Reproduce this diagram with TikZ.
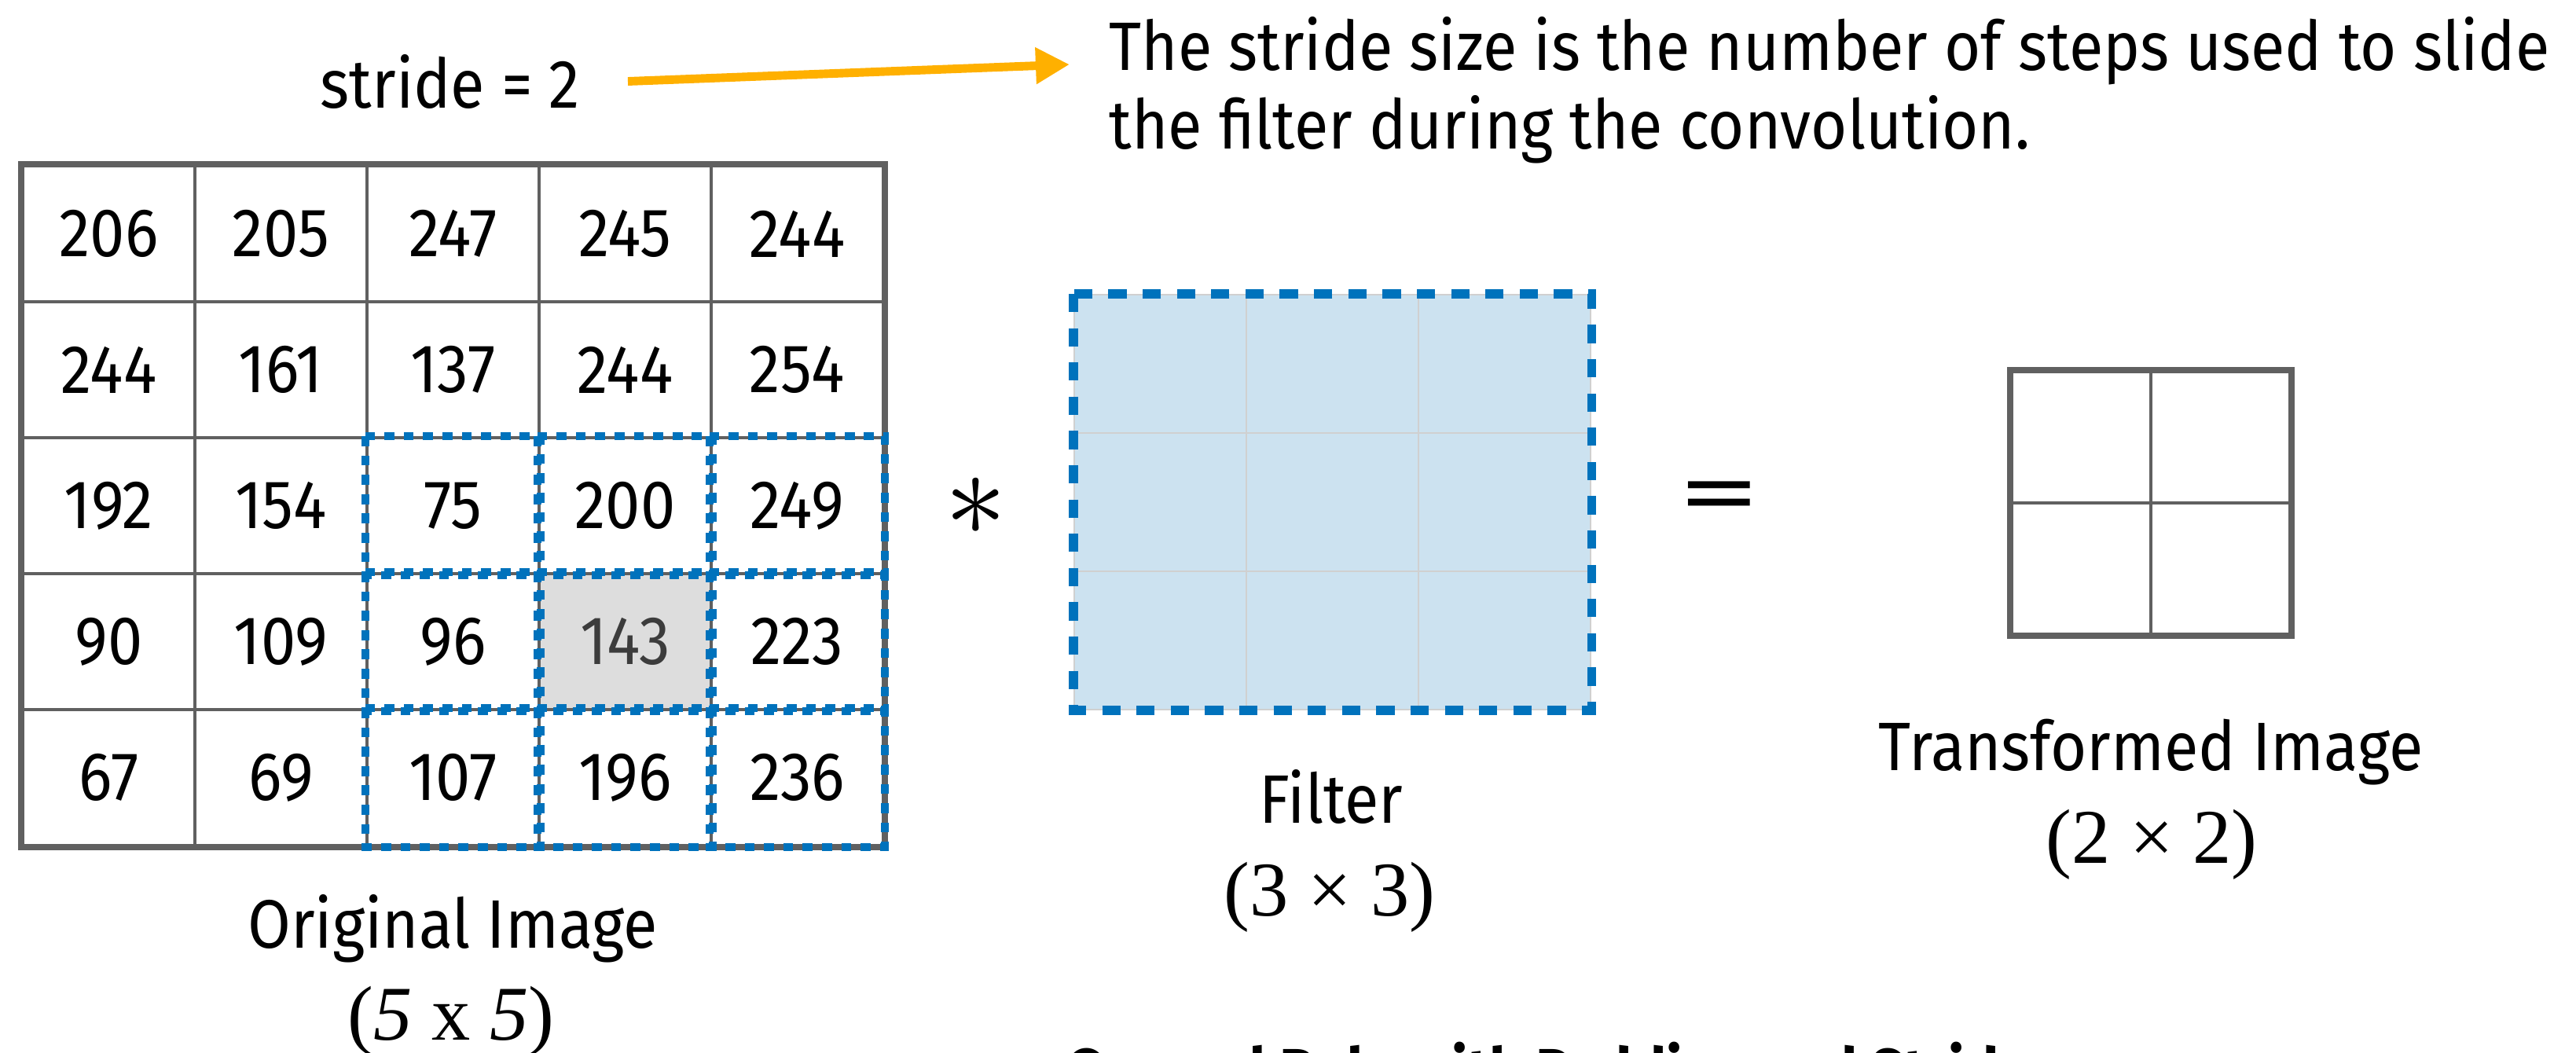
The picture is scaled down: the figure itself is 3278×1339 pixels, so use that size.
\documentclass[tikz,border=0pt]{standalone}
\usepackage{fontspec}
\setmainfont{Fira Sans}[FakeStretch=0.91]
\newfontfamily\dimfont{Liberation Serif}
\usetikzlibrary{arrows.meta,positioning}

\definecolor{gridgray}{RGB}{96,96,96}
\definecolor{winblue}{RGB}{0,114,188}
\definecolor{fltfill}{RGB}{204,226,240}
\definecolor{fltline}{RGB}{208,208,208}
\definecolor{hlfill}{RGB}{221,221,221}
\definecolor{hltext}{RGB}{60,60,60}
\definecolor{notegold}{RGB}{255,176,0}

\begin{document}
\begin{tikzpicture}[x=0.01cm, y=-0.01cm,
      font=\fontsize{24.8pt}{28.45pt}\selectfont,
      cell/.style={draw=gridgray, line width=1.1pt, minimum width=2.19cm,
                   minimum height=1.73cm, inner sep=0pt},
      cell 4-4/.style={fill=hlfill, text=hltext},
      fltcell/.style={draw=fltline, fill=fltfill, line width=0.6pt,
                      minimum width=2.19cm, minimum height=1.76cm, inner sep=0pt},
      outcell/.style={draw=gridgray, line width=1.1pt, minimum width=1.77cm,
                      minimum height=1.67cm, inner sep=0pt},
      frame/.style={draw=gridgray, line width=2.3pt},
      window/.style={draw=winblue, line width=2.6pt, dash pattern=on 3.6pt off 3.4pt},
      fltwindow/.style={draw=winblue, line width=3.2pt, dash pattern=on 6.6pt off 5.8pt},
      lbl/.style={inner sep=0pt, anchor=base},
      dim/.style={inner sep=0pt, anchor=base, font=\dimfont\fontsize{28pt}{30pt}\selectfont},
      pointer/.style={-{Triangle[length=4.3mm, width=4.4mm]}, draw=notegold, line width=3.1pt}]
    \useasboundingbox (0,0) rectangle (3278,1339);

    % original image
    \foreach \vals [count=\r] in {{206,205,247,245,244},{244,161,137,244,254},
        {192,154,75,200,249},{90,109,96,143,223},{67,69,107,196,236}}
      \foreach \v [count=\c] in \vals
        \node[cell, cell \r-\c/.try] (img-\r-\c) at ({138.5+219*(\c-1)}, {297.5+173*(\r-1)}) {\v};
    \draw[frame] (img-1-1.north west) rectangle (img-5-5.south east);
    \foreach \r in {3,4,5}
      \foreach \c in {3,4,5}
        \draw[window] (img-\r-\c.north west) rectangle (img-\r-\c.south east);

    % filter
    \foreach \r in {1,2,3}
      \foreach \c in {1,2,3}
        \node[fltcell] (flt-\r-\c) at ({1476.5+219*(\c-1)}, {463+176*(\r-1)}) {};
    \draw[fltwindow] (flt-1-1.north west) rectangle (flt-3-3.south east);

    % output
    \foreach \r in {1,2}
      \foreach \c in {1,2}
        \node[outcell] (out-\r-\c) at ({2648.5+177*(\c-1)}, {556.5+167*(\r-1)}) {};
    \draw[frame] (out-1-1.north west) rectangle (out-2-2.south east);

    \node[inner sep=0pt] (convop) at (1242,645) {\scalebox{1.8}{$\ast$}};
    \node[inner sep=0pt] (eqop) at (2188,640) {\scalebox{2}[1]{\fontsize{32.7pt}{33pt}\selectfont =}};

    \node[lbl] (imglbl) at (576,1206) {Original Image};
    \node[dim] (imgdim) at (574,1323) {(\textit{5} x \textit{5})};
    \node[lbl] (fltlbl) at (1694,1047) {Filter};
    \node[dim] (fltdim) at (1692,1165) {(3 × 3)};
    \node[lbl] (outlbl) at (2737,980) {Transformed Image};
    \node[dim] (outdim) at (2738,1098) {(2 × 2)};

    \node[lbl] (stridelbl) at (573,137) {stride = 2};
    \node[inner sep=0pt, anchor=north west, align=left] (stridenote) at (1411,21)
      {The stride size is the number of steps used to slide\\the filter during the convolution.};
    \draw[pointer] ([xshift=6mm]stridelbl.east) -- ([xshift=-5mm, yshift=-6.1mm]stridenote.north west);

    \node[lbl, anchor=base west, font=\bfseries\fontsize{22.6pt}{26pt}\selectfont] (ruletitle)
      at (1356,1390) {General Rule with Padding and Stride};
  \end{tikzpicture}
\end{document}
